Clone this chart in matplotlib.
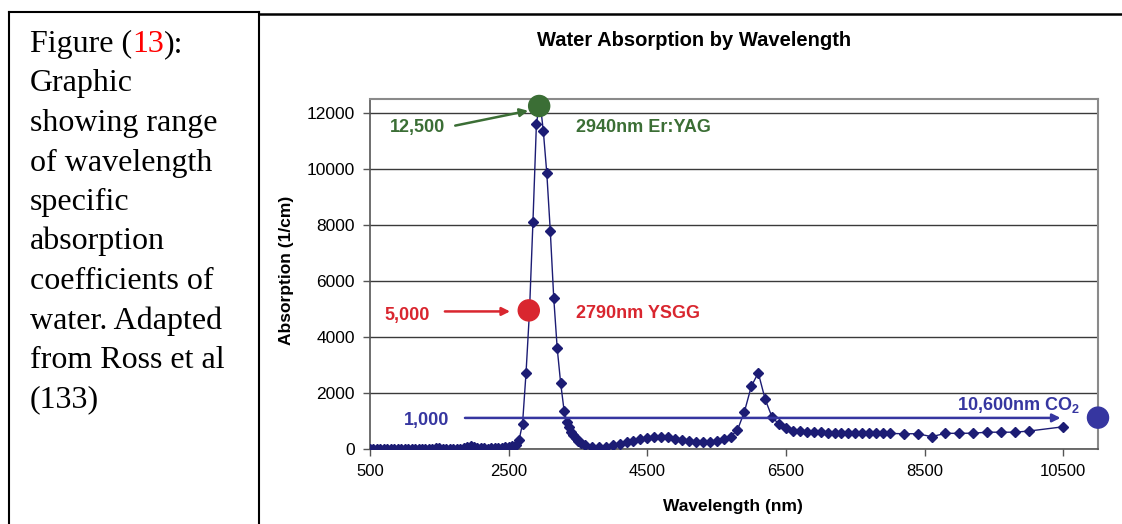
import matplotlib
matplotlib.use("Agg")
import matplotlib.pyplot as plt
from matplotlib.lines import Line2D

# water absorption curve
wavelength_nm = [500, 550, 600, 650, 700, 750, 800, 850, 900, 950,
                 1000, 1050, 1100, 1150, 1200, 1250, 1300, 1350, 1400, 1450,
                 1500, 1550, 1600, 1650, 1700, 1750, 1800, 1850, 1900, 1950,
                 2000, 2050, 2100, 2150, 2200, 2250, 2300, 2350, 2400, 2450,
                 2500, 2550, 2600, 2650, 2700, 2750, 2800, 2850, 2900, 2950,
                 3000, 3050, 3100, 3150, 3200, 3250, 3300, 3340, 3370, 3400,
                 3430, 3470, 3500, 3550, 3600, 3700, 3800, 3900, 4000, 4100,
                 4200, 4300, 4400, 4500, 4600, 4700, 4800, 4900, 5000, 5100,
                 5200, 5300, 5400, 5500, 5600, 5700, 5800, 5900, 6000, 6100,
                 6200, 6300, 6400, 6500, 6600, 6700, 6800, 6900, 7000, 7100,
                 7200, 7300, 7400, 7500, 7600, 7700, 7800, 7900, 8000, 8200,
                 8400, 8600, 8800, 9000, 9200, 9400, 9600, 9800, 10000, 10500]
absorption = [0.0003, 0.0006, 0.002, 0.003, 0.006, 0.026, 0.02, 0.04, 0.07, 0.39,
              0.36, 0.16, 0.19, 1.0, 1.0, 0.9, 1.2, 3.0, 12, 31,
              18, 10, 6.5, 5.2, 5.5, 8, 8, 20, 80, 120,
              70, 40, 25, 18, 17, 20, 25, 35, 50, 60,
              80, 110, 160, 320, 900, 2700, 4900, 8100, 11600, 12450,
              11350, 9850, 7800, 5400, 3600, 2350, 1360, 970, 770, 620,
              500, 380, 285, 200, 140, 82, 60, 82, 140, 180,
              240, 295, 345, 380, 415, 440, 415, 356, 320, 295,
              260, 260, 260, 285, 345, 440, 680, 1330, 2240, 2720,
              1770, 1130, 890, 740, 660, 640, 610, 600, 590, 580,
              575, 570, 565, 560, 560, 560, 560, 555, 555, 545,
              545, 440, 560, 560, 565, 600, 600, 600, 640, 794]

# highlighted laser lines
laser_wl = [2940, 2790, 11000]
laser_abs = [12250, 4950, 1120]
laser_colors = ["#3b6e35", "#d9262f", "#3636a0"]

caption = ["Figure (", "Graphic", "showing range", "of wavelength", "specific",
           "absorption", "coefficients of", "water. Adapted", "from Ross et al", "(133)"]

W, H = 1122, 524
fig = plt.figure(figsize=(W / 100, H / 100), dpi=100)
fig.patch.set_facecolor("white")

def fx(px):
    return px / W

def fy(py):
    return 1 - py / H

navy = "#1c1c74"
ax = fig.add_axes([fx(370), fy(449), fx(1098) - fx(370), fy(99) - fy(449)])
ax.plot(wavelength_nm, absorption, color=navy, lw=1, marker="D", ms=5.2,
        mec=navy, mfc=navy, zorder=3)
ax.set_xlim(500, 11000)
ax.set_ylim(0, 12500)
ax.set_xticks(range(500, 11000, 2000))
ax.set_yticks(range(0, 12001, 2000))
ax.tick_params(axis="x", length=5, width=1, color="#555555", pad=6, labelsize=12)
ax.tick_params(axis="y", length=5, width=1, color="#555555", pad=6, labelsize=12.5)
for lab in ax.get_xticklabels() + ax.get_yticklabels():
    lab.set_family("Liberation Sans")
ax.yaxis.grid(True, color="#3a3a3a", lw=1)
ax.set_axisbelow(True)
for side in ["top", "right"]:
    ax.spines[side].set_color("#8a8a8a")
    ax.spines[side].set_linewidth(1.5)
for side in ["left", "bottom"]:
    ax.spines[side].set_color("#555555")
    ax.spines[side].set_linewidth(1.2)

bold = dict(family="Liberation Sans", fontweight="bold")

# laser markers
ax.scatter(laser_wl, laser_abs, s=230, c=laser_colors, zorder=5, clip_on=False)

# 2940nm Er:YAG
g = laser_colors[0]
ax.text(1180, 11470, "12,500", color=g, fontsize=13, ha="center", va="center", **bold)
ax.annotate("", xy=(2820, 12100), xytext=(1690, 11530),
            arrowprops=dict(arrowstyle="-|>", color=g, lw=1.8, mutation_scale=12))
ax.text(3475, 11470, "2940nm Er:YAG", color=g, fontsize=13, ha="left", va="center", **bold)

# 2790nm YSGG
r = laser_colors[1]
ax.text(1034, 4770, "5,000", color=r, fontsize=13, ha="center", va="center", **bold)
ax.annotate("", xy=(2560, 4913), xytext=(1540, 4913),
            arrowprops=dict(arrowstyle="-|>", color=r, lw=1.8, mutation_scale=12))
ax.text(3475, 4840, "2790nm YSGG", color=r, fontsize=13, ha="left", va="center", **bold)

# 10,600nm CO2
b = laser_colors[2]
ax.text(1323, 1030, "1,000", color=b, fontsize=13, ha="center", va="center", **bold)
ax.annotate("", xy=(10500, 1110), xytext=(1830, 1110),
            arrowprops=dict(arrowstyle="-|>", color=b, lw=1.8, mutation_scale=12))
plt.rcParams["mathtext.fontset"] = "custom"
plt.rcParams["mathtext.bf"] = "Liberation Sans:bold"
plt.rcParams["mathtext.rm"] = "Liberation Sans:bold"
ax.text(10740, 1570, r"10,600nm CO$_\mathbf{2}$", color=b, fontsize=13,
        ha="right", va="center", **bold)

# titles
fig.text(fx(694), fy(40), "Water Absorption by Wavelength", fontsize=14.5,
         ha="center", va="center", **bold)
fig.text(fx(733), fy(507), "Wavelength (nm)", fontsize=12.5, ha="center", va="center", **bold)
fig.text(fx(287), fy(270), "Absorption (1/cm)", fontsize=12.5, rotation=90,
         ha="center", va="center", **bold)

# frames
fig.add_artist(Line2D([fx(9), fx(9)], [fy(12), 0], color="black", lw=1.5))
fig.add_artist(Line2D([fx(259), fx(259)], [fy(12), 0], color="black", lw=1.5))
fig.add_artist(Line2D([fx(9), fx(259)], [fy(12), fy(12)], color="black", lw=1.5))
fig.add_artist(Line2D([fx(259), 1], [fy(13.5), fy(13.5)], color="black", lw=1.8))

# caption
serif = dict(family="Liberation Serif", fontsize=23)
y0 = 52
for i, line in enumerate(caption):
    fig.text(fx(30), fy(y0 + i * 39.5), line, ha="left", va="baseline", **serif)
t1 = fig.text(fx(30), fy(y0), caption[0], ha="left", va="baseline", alpha=0, **serif)
fig.canvas.draw()
rend = fig.canvas.get_renderer()
bb = t1.get_window_extent(rend)
t2 = fig.text(bb.x1 / W, fy(y0), "13", color="red", ha="left", va="baseline", **serif)
bb2 = t2.get_window_extent(rend)
fig.text(bb2.x1 / W, fy(y0), "):", ha="left", va="baseline", **serif)

fig.savefig("out.png", dpi=100, facecolor="white")
